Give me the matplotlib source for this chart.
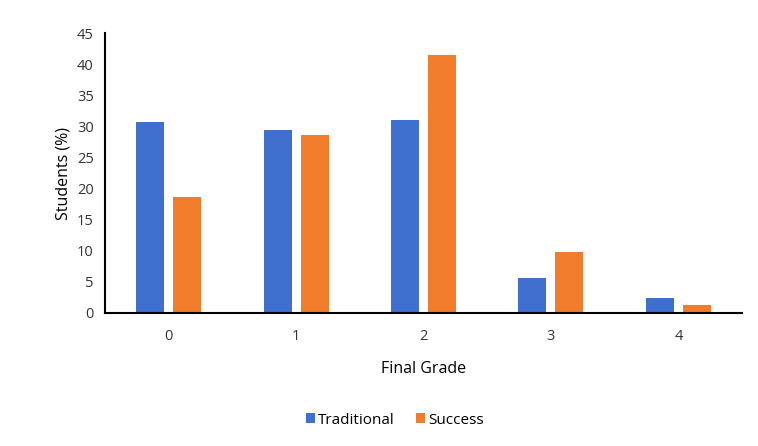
import numpy as np
import matplotlib.pyplot as plt

plt.rcParams['font.family'] = ['Open Sans', 'DejaVu Sans']

grades = ["0", "1", "2", "3", "4"]
traditional = [30.7, 29.5, 31.1, 5.6, 2.4]
success = [18.6, 28.6, 41.5, 9.7, 1.2]

fig = plt.figure(figsize=(7.58, 4.46), dpi=100, facecolor="white")
ax = fig.add_axes([0.1385, 0.299, 0.8405, 0.626])

x = np.arange(len(grades))
w = 0.22
gap = 0.035
ax.bar(x - w / 2 - gap, traditional, w, color="#3f70cf", label="Traditional")
ax.bar(x + w / 2 + gap, success, w, color="#f07c2c", label="Success")

ax.set_xlim(-0.5, 4.5)
ax.set_ylim(0, 45)
ax.set_yticks(range(0, 46, 5))
ax.set_xticks(x)
ax.set_xticklabels(grades)
ax.tick_params(length=0, labelsize=10.5, colors="#333333")
ax.tick_params(axis="x", pad=12)
ax.tick_params(axis="y", pad=8)

for s in ["top", "right"]:
    ax.spines[s].set_visible(False)
for s in ["left", "bottom"]:
    ax.spines[s].set_color("black")
    ax.spines[s].set_linewidth(1.5)

ax.set_xlabel("Final Grade", fontsize=11.5, labelpad=12)
ax.set_ylabel("Students (%)", fontsize=11.5, labelpad=4)

ax.legend(loc="center", bbox_to_anchor=(0.455, -0.385), ncol=2, frameon=False,
          fontsize=11, handlelength=0.6, handleheight=0.6, columnspacing=1.4,
          handletextpad=0.2)

fig.savefig("out.png", dpi=100, facecolor="white")
